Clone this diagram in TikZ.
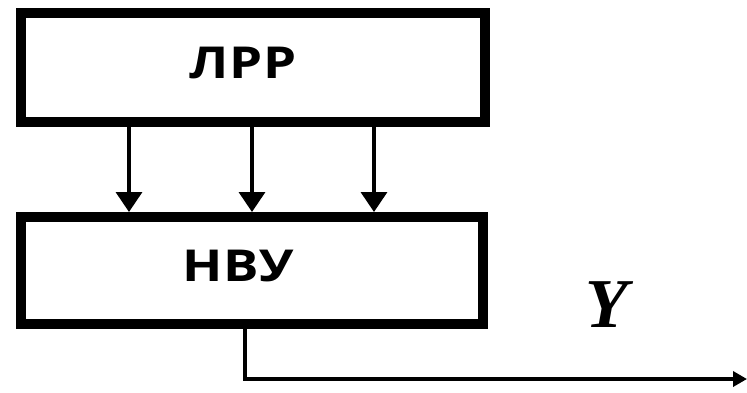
\documentclass[tikz,border=0pt]{standalone}
\usepackage{fontspec}
\setmainfont{Open Sans}
\newfontfamily\boxfont[FakeStretch=1.2,LetterSpace=1]{Open Sans}
\newfontfamily\symfont{Liberation Serif}
\usetikzlibrary{arrows.meta}
\begin{document}
\begin{tikzpicture}[x=1pt,y=-1pt,
  blockbox/.style={draw=black,line width=10pt},
  blocklabel/.style={font=\boxfont\fontsize{44}{48}\selectfont\bfseries},
  link/.style={draw=black,line width=3.5pt,-{Triangle[width=26pt,length=20pt]}},
  outlink/.style={draw=black,line width=3.5pt,-{Triangle[width=15pt,length=14pt]}}]
  \useasboundingbox (0,0) rectangle (747,392);
  % upper and lower blocks
  \draw[blockbox] (21,13) rectangle (485,122);
  \draw[blockbox] (21,217) rectangle (483,324);
  \node[blocklabel] (lrr) at (243,63) {ЛРР};
  \node[blocklabel] (nvu) at (238,266) {НВУ};
  % three links between the blocks
  \foreach \xx in {129,252,374}
    \draw[link] (\xx,122) -- (\xx,212);
  % output line
  \coordinate (outa) at (245,324);
  \coordinate (outb) at (245,379);
  \coordinate (outc) at (747,379);
  \draw[outlink] (outa) -- (outb) -- (outc);
  \node[font=\symfont\fontsize{70}{72}\selectfont\bfseries\itshape] (y) at (607,305) {Y};
\end{tikzpicture}
\end{document}
